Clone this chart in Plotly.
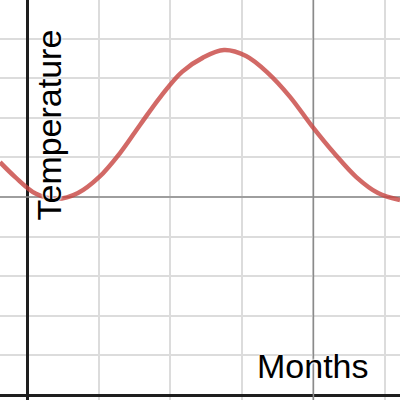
import plotly.graph_objects as go

# Curve (x in grid units of months, y in grid units of temperature)
months = [-0.377, -0.168, 0.126, 0.419, 0.712, 1.006, 1.299, 1.578, 1.872, 2.165,
          2.458, 2.751, 3.059, 3.366, 3.673, 3.980, 4.288, 4.595, 4.902, 5.209]
temperature = [5.88, 5.51, 5.08, 4.95, 5.10, 5.50, 6.11, 6.82, 7.55, 8.16,
               8.52, 8.71, 8.56, 8.13, 7.53, 6.79, 6.11, 5.51, 5.10, 4.92]

# Reference lines drawn in the graph
ref_month = 4
ref_temperature = 5

x_label = "Months"
y_label = "Temperature"

halo = "0 0 2px white, 0 0 2px white, 0 0 3px white"
x_range = [-0.377, 5.209]
y_range = [-0.126, 9.975]

fig = go.Figure()
fig.add_trace(go.Scatter(x=[ref_month, ref_month], y=y_range, mode="lines",
                         line=dict(color="#8a8a8a", width=1.5), hoverinfo="skip"))
fig.add_trace(go.Scatter(x=x_range, y=[ref_temperature, ref_temperature], mode="lines",
                         line=dict(color="#8a8a8a", width=1.5), hoverinfo="skip"))
fig.add_trace(go.Scatter(
    x=months, y=temperature, mode="lines", line_shape="spline",
    line=dict(color="rgba(199,68,64,0.8)", width=4.5, smoothing=1.0), hoverinfo="skip",
))

fig.add_annotation(text=y_label, x=0.307, y=6.83, xref="x", yref="y", showarrow=False,
                   textangle=-90,
                   font=dict(family="Liberation Sans, Arial", size=34, color="black", shadow=halo))
fig.add_annotation(text=x_label, x=4.0, y=0.737, xref="x", yref="y", showarrow=False,
                   font=dict(family="Liberation Sans, Arial", size=34, color="black", shadow=halo))

fig.update_layout(
    width=400, height=400, margin=dict(l=0, r=0, t=0, b=0),
    paper_bgcolor="white", plot_bgcolor="white", showlegend=False,
    xaxis=dict(range=x_range, dtick=1, tick0=0, showgrid=True, gridcolor="#dcdcdc",
               gridwidth=1.5, zeroline=True, zerolinecolor="#1e1e1e", zerolinewidth=3,
               showticklabels=False, ticks="", fixedrange=True),
    yaxis=dict(range=y_range, dtick=1, tick0=0, showgrid=True, gridcolor="#dcdcdc",
               gridwidth=1.5, zeroline=True, zerolinecolor="#1e1e1e", zerolinewidth=3,
               showticklabels=False, ticks="", fixedrange=True),
)

fig.write_html("out.html", config={"displayModeBar": False},
               post_script="document.body.style.margin='0';")
